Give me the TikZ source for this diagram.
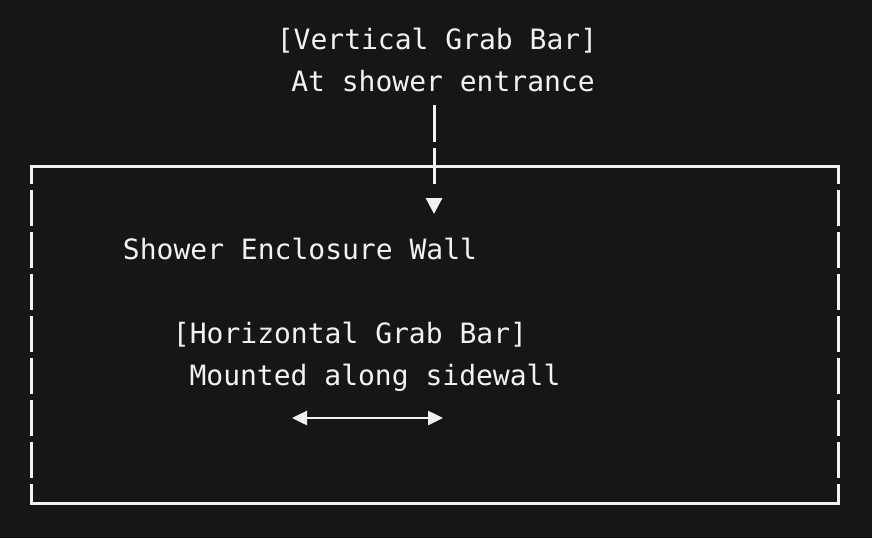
\documentclass[tikz,border=0pt]{standalone}
\usepackage{fontspec}
\setmonofont{DejaVu Sans Mono}
\usetikzlibrary{positioning,arrows.meta}
\definecolor{bg}{HTML}{161616}
\definecolor{ink}{HTML}{F2F2F2}

\begin{document}
\begin{tikzpicture}[x=1pt, y=-1pt,
  every node/.style={inner sep=0pt, anchor=base, text=ink, font=\ttfamily\fontsize{28}{34}\selectfont},
  wall/.style={draw=ink, line width=3pt},
  wallside/.style={wall, dash pattern=on 36pt off 6pt, dash phase=18pt},
  bar/.style={draw=ink, line width=3pt}]

% Background
\useasboundingbox[fill=bg] (0,0) rectangle (872,538);

% Labels
\node (vtitle) at (437,49) {[Vertical Grab Bar]};
\node (entrance) at (443,91) {At shower entrance};
\node (wall) at (300,259) {Shower Enclosure Wall};
\node (htitle) at (350,343) {[Horizontal Grab Bar]};
\node (sidewall) at (375,385) {Mounted along sidewall};

% Enclosure
\coordinate (nw) at (31,166);
\coordinate (ne) at (838,166);
\coordinate (se) at (838,503);
\coordinate (sw) at (31,503);
\draw[wall, line cap=rect] (nw) -- (ne);
\draw[wall, line cap=rect] (sw) -- (se);
\draw[wallside] (nw) -- (sw);
\draw[wallside] (ne) -- (se);

% Arrows
\coordinate (vtop) at (434,105);
\coordinate (vtip) at (434,214);
\draw[bar, dash pattern=on 37pt off 6pt on 36pt off 80pt, -{Triangle[length=16pt,width=16pt]}] (vtop) -- (vtip);

\coordinate (hleft) at (292,418);
\coordinate (hright) at (443,418);
\draw[bar, line width=2.5pt, {Triangle[length=15pt,width=14pt]}-{Triangle[length=15pt,width=14pt]}] (hleft) -- (hright);

\end{tikzpicture}
\end{document}
